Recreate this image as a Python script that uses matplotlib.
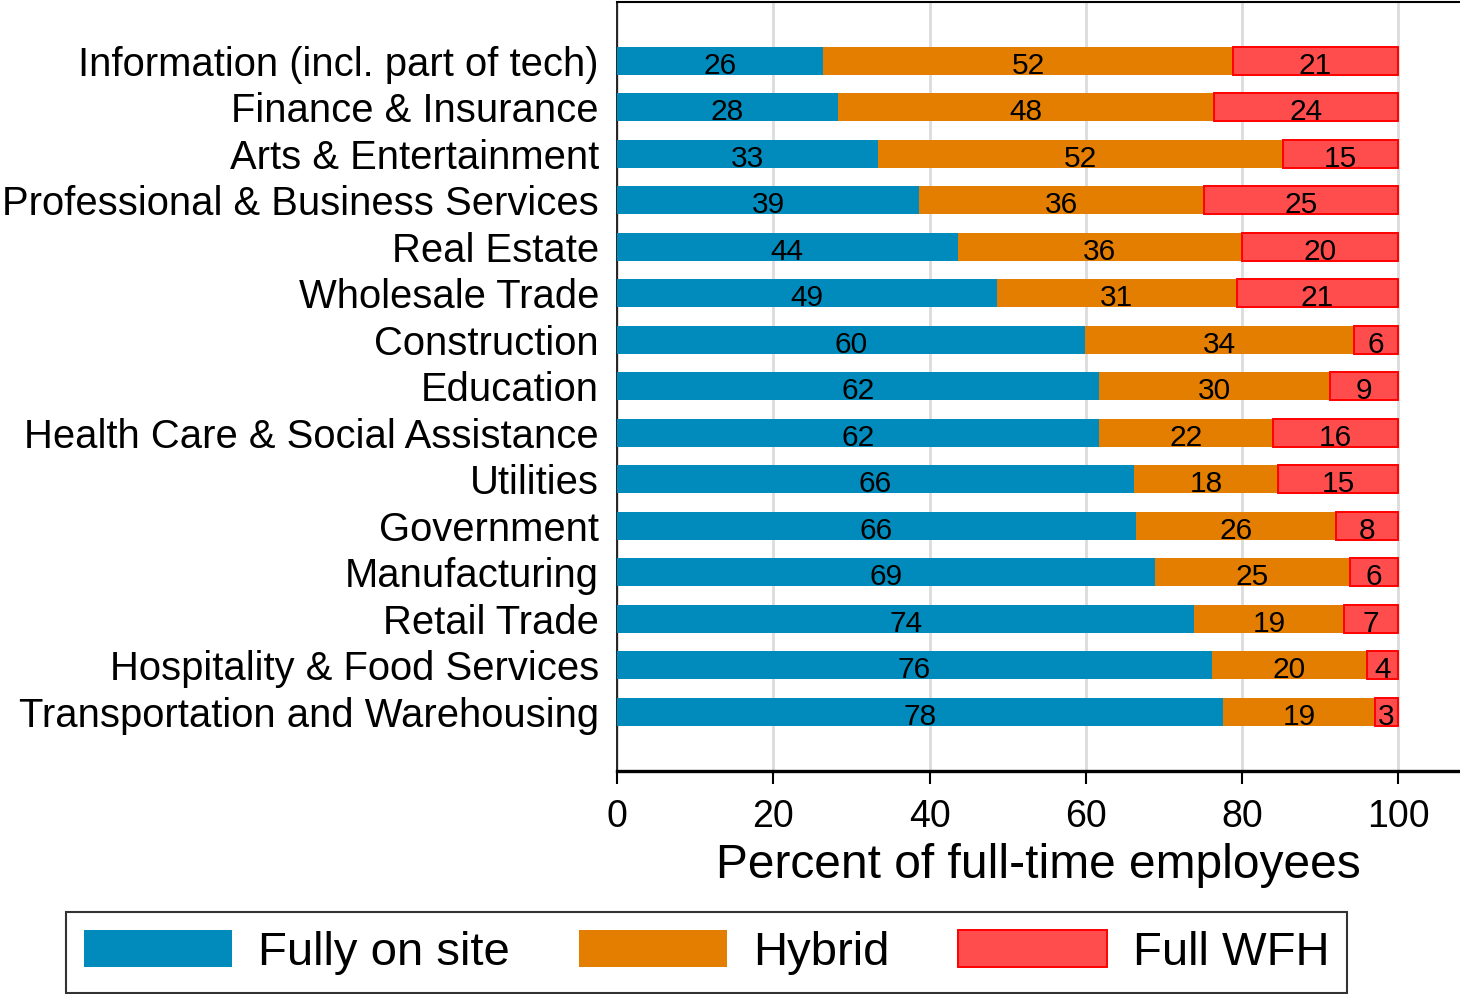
import matplotlib
matplotlib.use("Agg")
import matplotlib.pyplot as plt
import numpy as np

plt.rcParams['font.family'] = ['Liberation Sans', 'DejaVu Sans']

categories = [
    "Information (incl. part of tech)",
    "Finance & Insurance",
    "Arts & Entertainment",
    "Professional & Business Services",
    "Real Estate",
    "Wholesale Trade",
    "Construction",
    "Education",
    "Health Care & Social Assistance",
    "Utilities",
    "Government",
    "Manufacturing",
    "Retail Trade",
    "Hospitality & Food Services",
    "Transportation and Warehousing",
]
onsite = [26.4, 28.3, 33.4, 38.7, 43.6, 48.6, 59.9, 61.7, 61.7, 66.2, 66.4, 68.8, 73.9, 76.1, 77.6]
hybrid = [52.4, 48.1, 51.8, 36.4, 36.4, 30.7, 34.4, 29.6, 22.3, 18.4, 25.6, 25.0, 19.1, 19.9, 19.4]
wfh = [21.2, 23.6, 14.8, 24.9, 20.0, 20.7, 5.7, 8.7, 16.0, 15.4, 8.0, 6.2, 7.0, 4.0, 3.0]
series_names = ["Fully on site", "Hybrid", "Full WFH"]
xticks = [0, 20, 40, 60, 80, 100]

c_blue = "#008BBC"
c_orange = "#E37E00"
c_red_fill = "#FF4D4D"
c_red_edge = "#FF0000"

W, H = 1460, 994
fig = plt.figure(figsize=(W / 100, H / 100), dpi=100)
ax = fig.add_axes([617 / W, 1 - 771 / H, (W - 617) / W, (771 - 2) / H])

y = np.arange(len(categories))
h = 0.6
on = np.array(onsite)
hy = np.array(hybrid)
wf = np.array(wfh)

b1 = ax.barh(y, on, height=h, color=c_blue, linewidth=0, zorder=3, label=series_names[0])
b2 = ax.barh(y, hy, left=on, height=h, color=c_orange, linewidth=0, zorder=3, label=series_names[1])
b3 = ax.barh(y, wf, left=on + hy, height=h, color=c_red_fill, edgecolor=c_red_edge,
             linewidth=1.4, zorder=3, label=series_names[2])

for lefts, vals in [(np.zeros_like(on), on), (on, hy), (on + hy, wf)]:
    for yi, l, v in zip(y, lefts, vals):
        ax.text(l + v / 2, yi + 0.28, f"{v:.0f}", ha="center", va="baseline",
                fontsize=21.5, color="black", zorder=5)

ax.set_xlim(0, 107.9)
ax.set_ylim(len(categories) - 1 + 1.27, -1.26)
ax.set_yticks(y)
ax.set_yticklabels(categories, fontsize=28.8)
ax.tick_params(axis="y", length=0, pad=13)
ax.set_xticks(xticks)
ax.set_xticklabels([str(t) for t in xticks], fontsize=27)
ax.tick_params(axis="x", direction="out", length=9.5, width=1.5, pad=10.5)
ax.set_xlabel("Percent of full-time employees", fontsize=34.5, labelpad=6)

ax.grid(axis="x", color="#DCDCDC", linewidth=2.0, zorder=0)
ax.set_axisbelow(True)
ax.spines["right"].set_visible(False)
ax.spines["top"].set_linewidth(1.5)
ax.spines["left"].set_linewidth(1.2)
ax.spines["bottom"].set_linewidth(2.4)

leg = fig.legend(handles=[b1, b2, b3], labels=series_names, loc="center",
                 bbox_to_anchor=(706.5 / W, 1 - 952.5 / H), ncol=3, fontsize=34,
                 frameon=True, fancybox=False, handlelength=3.15, handleheight=0.84,
                 handletextpad=0.55, columnspacing=1.45, borderpad=0.38,
                 borderaxespad=0)
leg.get_frame().set_edgecolor("black")
leg.get_frame().set_linewidth(1.5)

fig.savefig("out.png", dpi=100)
